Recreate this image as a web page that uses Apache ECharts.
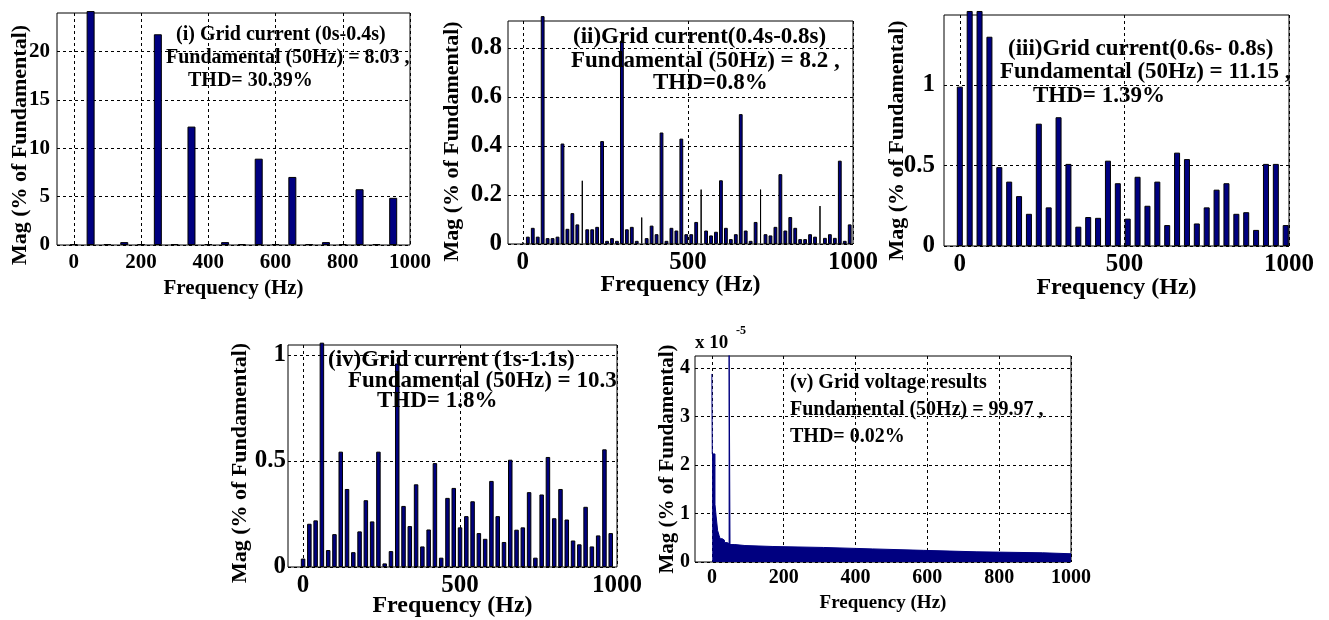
<!DOCTYPE html>
<html><head><meta charset="utf-8">
<script src="https://cdn.jsdelivr.net/npm/echarts@6/dist/echarts.min.js"></script>
<style>html,body{margin:0;padding:0;background:#fff}#c{width:1329px;height:620px}</style>
</head><body><div id="c"></div>
<script>
// ---------- data ----------
const freq1 = [0,50,100,150,200,250,300,350,400,450,500,550,600,650,700,750,800,850,900,950];
const mag1  = [0.1,24.2,0.1,0.3,0.1,21.8,0.1,12.25,0.1,0.3,0.1,8.93,0.1,7.04,0.1,0.3,0.1,5.77,0.1,4.88];

const freq2 = [0,15,30,45,60,75,90,105,120,135,150,165,180,195,210,225,240,255,270,285,300,315,330,345,360,375,390,405,420,435,450,465,480,495,510,525,540,555,570,585,600,615,630,645,660,675,690,705,720,735,750,765,780,795,810,825,840,855,870,885,900,915,930,945,960,975,990];
const mag2  = [0.01,0.03,0.066,0.03,0.93,0.024,0.024,0.03,0.41,0.062,0.126,0.08,0.26,0.06,0.06,0.07,0.42,0.013,0.024,0.013,0.83,0.06,0.07,0.013,0.11,0.024,0.075,0.04,0.455,0.013,0.066,0.055,0.43,0.04,0.04,0.09,0.224,0.055,0.035,0.05,0.26,0.066,0.02,0.04,0.53,0.055,0.013,0.09,0.224,0.04,0.035,0.07,0.285,0.055,0.11,0.066,0.02,0.02,0.04,0.03,0.157,0.025,0.04,0.025,0.34,0.013,0.08];
const thinFreq2 = [0,180,360,540,720,900];

const freq3 = [0,30,60,90,120,150,180,210,240,270,300,330,360,390,420,450,480,510,540,570,600,630,660,690,720,750,780,810,840,870,900,930,960,990];
const mag3  = [0.99,1.46,1.46,1.30,0.49,0.40,0.31,0.20,0.76,0.24,0.80,0.51,0.12,0.18,0.175,0.53,0.39,0.17,0.43,0.25,0.40,0.13,0.58,0.54,0.14,0.24,0.35,0.39,0.20,0.21,0.10,0.51,0.51,0.13];

const freq4 = [0,20,40,60,80,100,120,140,160,180,200,220,240,260,280,300,320,340,360,380,400,420,440,460,480,500,520,540,560,580,600,620,640,660,680,700,720,740,760,780,800,820,840,860,880,900,920,940,960,980];
const mag4  = [0.04,0.204,0.22,1.058,0.08,0.155,0.544,0.368,0.07,0.168,0.315,0.215,0.544,0.017,0.075,0.96,0.288,0.193,0.39,0.097,0.177,0.49,0.044,0.326,0.373,0.187,0.24,0.31,0.16,0.133,0.406,0.24,0.118,0.506,0.176,0.187,0.353,0.044,0.342,0.519,0.23,0.368,0.224,0.125,0.107,0.284,0.097,0.149,0.555,0.16];

// grid voltage spectrum (x 1e-5), step profile
const freq5 = [0,1,8.6,12,16,20,23,29,35,42,48,50.5,64,92,170,311,448,590,738,921,1000];
const mag5  = [3.88,2.23,1.19,0.93,0.65,0.55,0.48,0.45,0.40,0.38,4.4,0.36,0.34,0.32,0.30,0.27,0.24,0.21,0.19,0.17,0.17];

const xTicks1 = [0,200,400,600,800,1000];
const xTicks2 = [0,500,1000];
const xTicks5 = [0,200,400,600,800,1000];
const yTicks1 = [0,5,10,15,20];
const yTicks2 = [0,0.2,0.4,0.6,0.8];
const yTicks3 = [0,0.5,1];
const yTicks4 = [0,0.5,1];
const yTicks5 = [0,1,2,3,4];

const notes = [
  ['(i) Grid current (0s-0.4s)','Fundamental (50Hz) = 8.03 ,','THD= 30.39%'],
  ['(ii)Grid current(0.4s-0.8s)','Fundamental (50Hz) = 8.2 ,','THD=0.8%'],
  ['(iii)Grid current(0.6s- 0.8s)','Fundamental (50Hz) = 11.15 ,','THD= 1.39%'],
  ['(iv)Grid current (1s-1.1s)','Fundamental (50Hz) = 10.3','THD= 1.8%'],
  ['(v) Grid voltage results','Fundamental (50Hz) = 99.97 ,','THD= 0.02%']
];
const xName = 'Frequency (Hz)';
const yName = 'Mag (% of Fundamental)';

// ---------- chart ----------
const FONT = '"Liberation Serif","Times New Roman",serif';
const NAVY = '#000080';
const gridLine = {show:true, lineStyle:{color:'#000', type:[3,3], width:1}};
const plain = v => String(v);

function pairs(xs, ys){ return xs.map((x,i)=>[x, ys[i]]); }

function xAx(gi, min, ticks, fs, margin, nameGap, nfs){
  return {type:'value', gridIndex:gi, min:min, max:1000,
    axisLine:{show:false}, axisTick:{show:false, customValues:ticks},
    axisLabel:{customValues:ticks, formatter:plain, fontFamily:FONT, fontWeight:'bold', fontSize:fs, color:'#000', margin:margin},
    splitLine:gridLine,
    name:xName, nameLocation:'middle', nameGap:nameGap, nameMoveOverlap:false,
    nameTextStyle:{fontFamily:FONT, fontWeight:'bold', fontSize:nfs, color:'#000'}};
}
function yAx(gi, max, ticks, fs, margin, nameGap, nfs, shift){
  return {type:'value', gridIndex:gi, min:0, max:max,
    axisLine:{show:false}, axisTick:{show:false, customValues:ticks},
    axisLabel:{customValues:ticks, formatter:plain, fontFamily:FONT, fontWeight:'bold', fontSize:fs, color:'#000', margin:margin},
    splitLine:gridLine,
    name:yName, nameLocation:'middle', nameRotate:90, nameGap:nameGap, nameMoveOverlap:false,
    nameTextStyle:{fontFamily:FONT, fontWeight:'bold', fontSize:nfs, color:'#000', padding:[0, shift*2, 0, 0]}};
}
const gridBase = {show:true, borderColor:'#000', borderWidth:1, backgroundColor:'#fff'};

const thinSet = new Set(thinFreq2);
const main2 = pairs(freq2, mag2).filter(p=>!thinSet.has(p[0]));
const thin2 = pairs(freq2, mag2).filter(p=>thinSet.has(p[0]));

function barSeries(xi, yi, data, w, color){
  return {type:'bar', xAxisIndex:xi, yAxisIndex:yi, data:data, barWidth:w, clip:false,
    itemStyle:{color:color, borderColor:'#000', borderWidth:1}, animation:false};
}

const notePos = [
  {x:[176,166,188], y:[35,58,81], fs:20},
  {x:[573,571,653], y:[37,61,83], fs:23},
  {x:[1008,1000,1033], y:[49,72,96], fs:23},
  {x:[328,348,377], y:[360,381,401], fs:23},
  {x:[790,790,790], y:[383,410,437], fs:20}
];
const graphics = [];
notes.forEach((lines, k)=>{
  lines.forEach((t, j)=>{
    graphics.push({type:'text', x:notePos[k].x[j], y:notePos[k].y[j], z:100,
      style:{text:t, font:'bold '+notePos[k].fs+'px "Liberation Serif"', fill:'#000',
        verticalAlign:'middle', textVerticalAlign:'middle'}});
  });
});
graphics.push({type:'text', x:695, y:343, style:{text:'x 10', font:'bold 19px "Liberation Serif"', fill:'#000', verticalAlign:'middle', textVerticalAlign:'middle'}});
graphics.push({type:'text', x:736, y:331, style:{text:'-5', font:'bold 12px "Liberation Serif"', fill:'#000', verticalAlign:'middle', textVerticalAlign:'middle'}});

const option = {
  animation:false,
  backgroundColor:'#fff',
  grid:[
    Object.assign({left:57, top:13, width:353, height:232}, gridBase),
    Object.assign({left:508, top:21, width:345, height:223}, gridBase),
    Object.assign({left:944, top:15, width:345, height:231}, gridBase),
    Object.assign({left:288, top:345, width:329, height:222}, gridBase),
    Object.assign({left:695, top:356, width:376, height:206}, gridBase)
  ],
  xAxis:[
    xAx(0, -50, xTicks1, 21, 7, 33, 21),
    xAx(1, -45, xTicks2, 25, 6, 29, 24),
    xAx(2, -48, xTicks2, 25, 6, 30, 24),
    xAx(3, -48, xTicks2, 25, 6, 27, 24),
    xAx(4, -47, xTicks5, 20, 6, 32, 19),
    Object.assign(xAx(1, -45, xTicks2, 25, 6, 29, 24), {show:false})
  ],
  yAxis:[
    yAx(0, 24, yTicks1, 21, 7, 26, 22, 16),
    yAx(1, 0.91, yTicks2, 25, 6, 45, 22, 9),
    yAx(2, 1.435, yTicks3, 25, 9, 36, 22, 10),
    yAx(3, 1.047, yTicks4, 25, 2, 37, 22, 7),
    yAx(4, 4.25, yTicks5, 20, 5, 17, 21, 0)
  ],
  series:[
    barSeries(0, 0, pairs(freq1, mag1), 8, NAVY),
    barSeries(1, 1, main2, 3.8, NAVY),
    barSeries(5, 1, thin2, 1, '#000'),
    barSeries(2, 2, pairs(freq3, mag3), 6, NAVY),
    barSeries(3, 3, pairs(freq4, mag4), 4.5, NAVY),
    {type:'line', xAxisIndex:4, yAxisIndex:4, data:pairs(freq5, mag5), step:'end', symbol:'none',
      lineStyle:{color:NAVY, width:1}, areaStyle:{color:NAVY, opacity:1}, animation:false}
  ],
  graphic:graphics
};
const chart = echarts.init(document.getElementById('c'), null, {renderer:'canvas'});
chart.setOption(option);
</script>
</body></html>
